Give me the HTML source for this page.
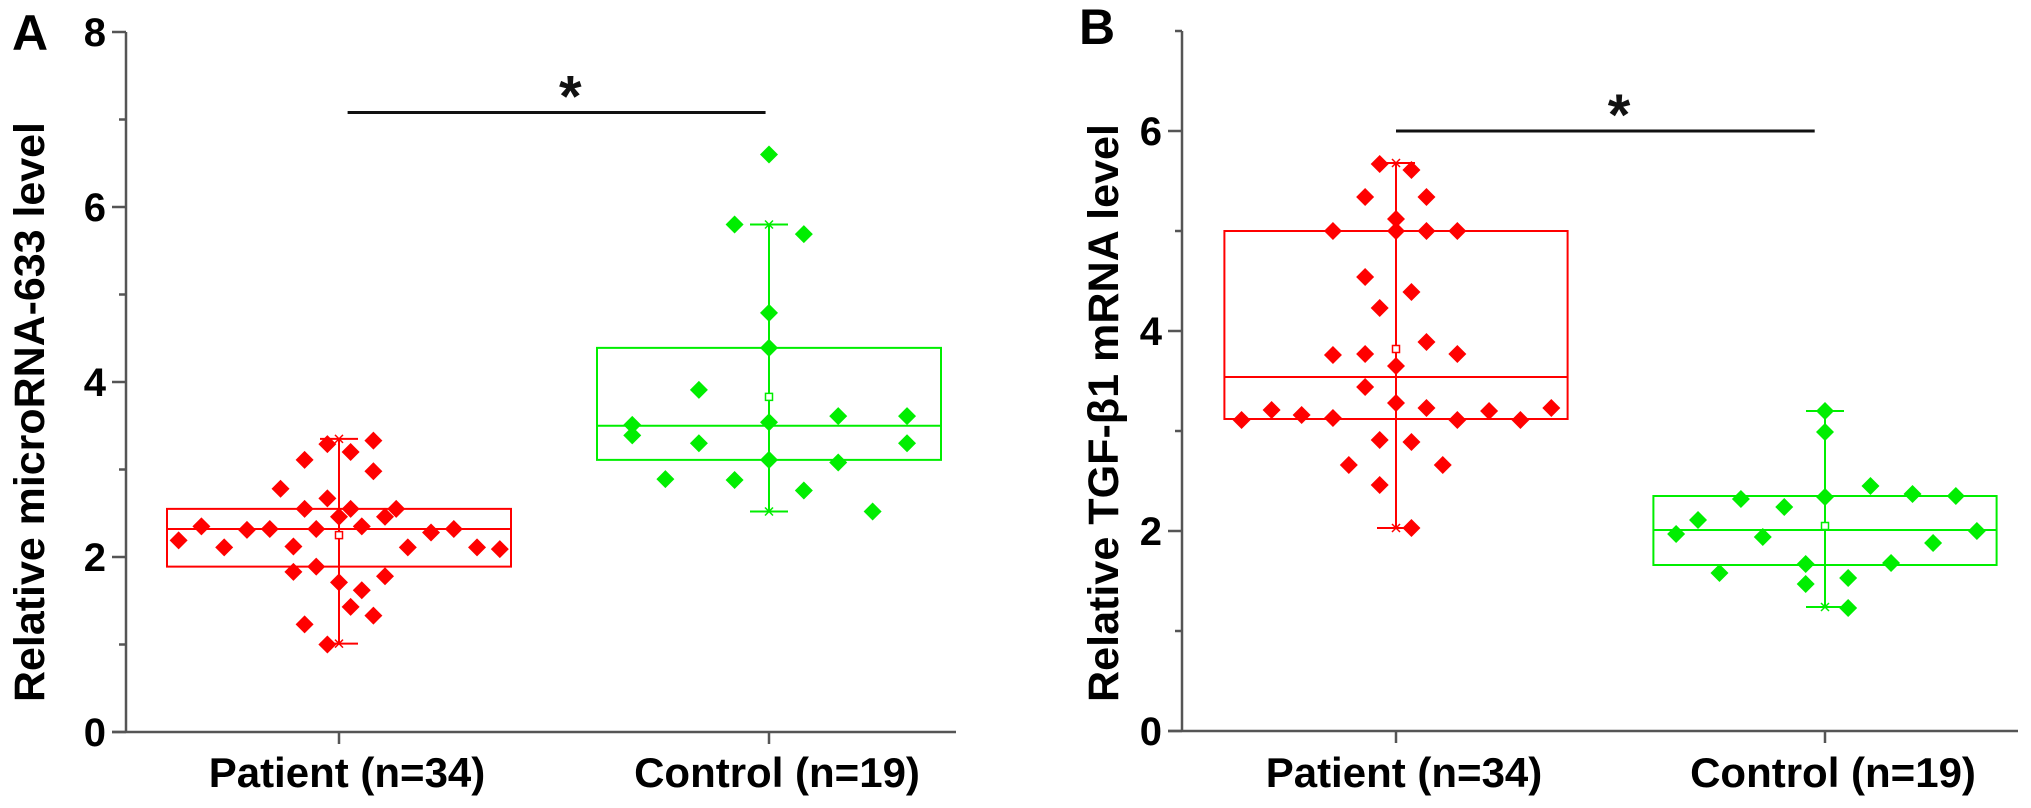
<!DOCTYPE html>
<html><head><meta charset="utf-8">
<style>
html,body{margin:0;padding:0;background:#fff;}
svg{display:block;font-family:"Liberation Sans",Arial,sans-serif;}
</style></head>
<body>
<svg id="chart" width="2031" height="808" viewBox="0 0 2031 808" xmlns="http://www.w3.org/2000/svg"></svg>
<script>
// ---------- data ----------
const categories = ["Patient (n=34)", "Control (n=19)"];
// Panel A: microRNA-633
const aPatientValues = [2.19,2.35,2.11,2.31,2.32,2.78,2.12,1.83,3.11,2.55,1.23,2.32,1.89,3.29,2.67,1.00,2.46,1.71,3.20,2.55,1.43,2.35,1.62,3.33,2.98,1.33,2.46,1.78,2.55,2.11,2.28,2.32,2.11,2.09];
const aPatientJitter = [-0.373,-0.32,-0.267,-0.214,-0.161,-0.136,-0.106,-0.106,-0.08,-0.08,-0.08,-0.053,-0.053,-0.027,-0.027,-0.027,0,0,0.027,0.027,0.027,0.053,0.053,0.08,0.08,0.08,0.107,0.107,0.133,0.16,0.214,0.267,0.321,0.374];
const aControlValues = [6.60,5.80,5.69,4.79,4.39,3.91,3.51,3.39,3.61,3.61,3.54,3.30,3.30,3.11,3.08,2.89,2.88,2.76,2.52];
const aControlJitter = [0,-0.08,0.081,0,0,-0.163,-0.318,-0.318,0.161,0.321,0,-0.163,0.321,0,0.161,-0.241,-0.08,0.081,0.241];
// box stats: [q1, median, q3, mean, whiskerLow, whiskerHigh]
const aPatientBox = [1.89,2.32,2.55,2.25,1.01,3.35];
const aControlBox = [3.11,3.50,4.39,3.83,2.52,5.80];
const aTicks = [0,2,4,6,8];
const aMinorTicks = [1,3,5,7];
const aSig = 7.08;
// Panel B: TGF-β1
const bPatientValues = [3.11,3.21,3.16,3.13,3.76,5.00,2.66,5.34,4.54,3.77,3.44,5.67,4.23,2.91,2.46,5.12,5.00,3.65,3.28,5.61,4.39,2.89,2.03,5.34,5.00,3.89,3.23,2.66,5.00,3.77,3.11,3.20,3.11,3.23];
const bPatientJitter = [-0.36,-0.29,-0.22,-0.147,-0.147,-0.147,-0.11,-0.072,-0.072,-0.072,-0.072,-0.038,-0.038,-0.038,-0.038,0,0,0,0,0.036,0.036,0.036,0.036,0.071,0.071,0.071,0.071,0.109,0.143,0.143,0.143,0.217,0.29,0.362];
const bControlValues = [1.97,2.11,1.58,2.32,1.94,2.24,1.67,1.47,3.20,2.99,2.34,1.53,1.23,2.45,1.68,2.37,1.88,2.35,2.00];
const bControlJitter = [-0.347,-0.296,-0.246,-0.196,-0.145,-0.095,-0.045,-0.045,0,0,0,0.054,0.054,0.106,0.154,0.204,0.252,0.305,0.354];
const bPatientBox = [3.12,3.54,5.00,3.82,2.03,5.68];
const bControlBox = [1.66,2.01,2.35,2.05,1.24,3.20];
const bTicks = [0,2,4,6];
const bMinorTicks = [1,3,5,7];
const bSig = 6.0;

const NS = "http://www.w3.org/2000/svg";
const svg = document.getElementById('chart');
function mk(tag, attrs, parent){
  const e = document.createElementNS(NS, tag);
  for (const k in attrs) e.setAttribute(k, attrs[k]);
  (parent||svg).appendChild(e);
  return e;
}
const RED = "#ff0000", GREEN = "#00ee00", AXIS = "#555";

function panel(cfg){
  const g = mk('g', {});
  
  
  const y = v => cfg.y0 - (v - 0) * (cfg.y0 - cfg.yTop) / cfg.yMax;
  const x = (ci, off) => cfg.cx[ci] + off * cfg.band;

  const ya = mk('line', {x1:cfg.ax, y1:cfg.yTop, x2:cfg.ax, y2:cfg.y0, stroke:AXIS, 'stroke-width':2.5}, g);
  
  
  const xa = mk('line', {x1:cfg.ax - 14, y1:cfg.y0, x2:cfg.xEnd, y2:cfg.y0, stroke:AXIS, 'stroke-width':2.5}, g);
  
  

  cfg.ticks.forEach(t => {
    const tk = mk('line', {x1:cfg.ax - 14, y1:y(t), x2:cfg.ax, y2:y(t), stroke:AXIS, 'stroke-width':2.5}, g);
    
    
    const lb = mk('text', {x:cfg.ax - 20, y:y(t) + 14, 'text-anchor':'end', 'font-size':40, 'font-weight':'bold', fill:'#000'}, g);
    lb.textContent = t;
    
    
  });
  cfg.minor.forEach(t => {
    const tk = mk('line', {x1:cfg.ax - 7, y1:y(t), x2:cfg.ax, y2:y(t), stroke:AXIS, 'stroke-width':2.5}, g);
    
    
  });
  categories.forEach((c, i) => {
    const tk = mk('line', {x1:cfg.cx[i], y1:cfg.y0, x2:cfg.cx[i], y2:cfg.y0 + 12, stroke:AXIS, 'stroke-width':2.5}, g);
    
    
    const lb = mk('text', {x:cfg.cx[i] + 8, y:787, 'text-anchor':'middle', 'font-size':42, 'font-weight':'bold', fill:'#000'}, g);
    lb.textContent = c;
    
    
  });

  const tt = mk('text', {x:0, y:0, 'text-anchor':'middle', 'font-size':43, 'font-weight':'bold', fill:'#000',
    transform:`translate(${cfg.titleX},${cfg.titleY}) rotate(-90)`, textLength:cfg.titleLen, lengthAdjust:'spacingAndGlyphs'}, g);
  tt.textContent = cfg.title;
  
  

  const pl = mk('text', {x:cfg.letterX, y:cfg.letterY, 'font-size':50, 'font-weight':'bold', fill:'#000'}, g);
  pl.textContent = cfg.letter;
  
  

  const groups = [[cfg.pBox, cfg.pVals, cfg.pJit, RED, 'patient'], [cfg.cBox, cfg.cVals, cfg.cJit, GREEN, 'control']];
  groups.forEach(([box, vals, jit, col, nm], ci) => {
    const bg = mk('g', {}, g);
    
    
    const cxp = cfg.cx[ci], hw = 0.40 * cfg.band, cap = 19;
    const wl = mk('line', {x1:cxp, y1:y(box[5]), x2:cxp, y2:y(box[4]), stroke:col, 'stroke-width':2}, bg);
    
    
    [box[4], box[5]].forEach(v => {
      const cp = mk('line', {x1:cxp - cap, y1:y(v), x2:cxp + cap, y2:y(v), stroke:col, 'stroke-width':2}, bg);
      
      
      const xm = mk('path', {d:`M${cxp-4},${y(v)-4}L${cxp+4},${y(v)+4}M${cxp-4},${y(v)+4}L${cxp+4},${y(v)-4}`, stroke:col, 'stroke-width':1.5, fill:'none'}, bg);
      
      
    });
    const rc = mk('rect', {x:cxp - hw, y:y(box[2]), width:2*hw, height:y(box[0]) - y(box[2]), fill:'none', stroke:col, 'stroke-width':2}, bg);
    
    
    const md = mk('line', {x1:cxp - hw, y1:y(box[1]), x2:cxp + hw, y2:y(box[1]), stroke:col, 'stroke-width':2}, bg);
    
    
    vals.forEach((v, i) => {
      const px = x(ci, jit[i]), py = y(v), r = 9;
      const d = mk('path', {d:`M${px},${py-r}L${px+r},${py}L${px},${py+r}L${px-r},${py}Z`, fill:col}, bg);
      
      
    });
    const mn = mk('rect', {x:cxp - 3.5, y:y(box[3]) - 3.5, width:7, height:7, fill:'#fff', stroke:col, 'stroke-width':1.5}, bg);
    
    
  });

  const sl = mk('line', {x1:x(0, cfg.sigOff[0]), y1:y(cfg.sig), x2:x(1, cfg.sigOff[1]), y2:y(cfg.sig), stroke:'#111', 'stroke-width':3}, g);
  
  
  const st = mk('text', {x:x(0, cfg.starOff), y:y(cfg.sig) + 4, 'text-anchor':'middle', 'font-size':58, 'font-weight':'bold', fill:'#111'}, g);
  st.textContent = '*';
  
  
}

panel({name:'panel-a-microrna-633', letter:'A', letterX:12, letterY:50, ax:126, y0:732, yTop:32, yMax:8, cx:[339,769], band:430, xEnd:956,
  ticks:aTicks, minor:aMinorTicks, title:'Relative microRNA-633 level', titleX:44, titleY:412, titleLen:580,
  pBox:aPatientBox, pVals:aPatientValues, pJit:aPatientJitter, cBox:aControlBox, cVals:aControlValues, cJit:aControlJitter,
  sig:aSig, sigOff:[0.02,-0.008], starOff:0.538});
panel({name:'panel-b-tgf-beta1', letter:'B', letterX:1079, letterY:44, ax:1182, y0:731, yTop:31, yMax:7, cx:[1396,1825], band:429, xEnd:2018,
  ticks:bTicks, minor:bMinorTicks, title:'Relative TGF-β1 mRNA level', titleX:1118, titleY:413, titleLen:578,
  pBox:bPatientBox, pVals:bPatientValues, pJit:bPatientJitter, cBox:bControlBox, cVals:bControlValues, cJit:bControlJitter,
  sig:bSig, sigOff:[0,-0.024], starOff:0.52});
</script>
</body></html>
